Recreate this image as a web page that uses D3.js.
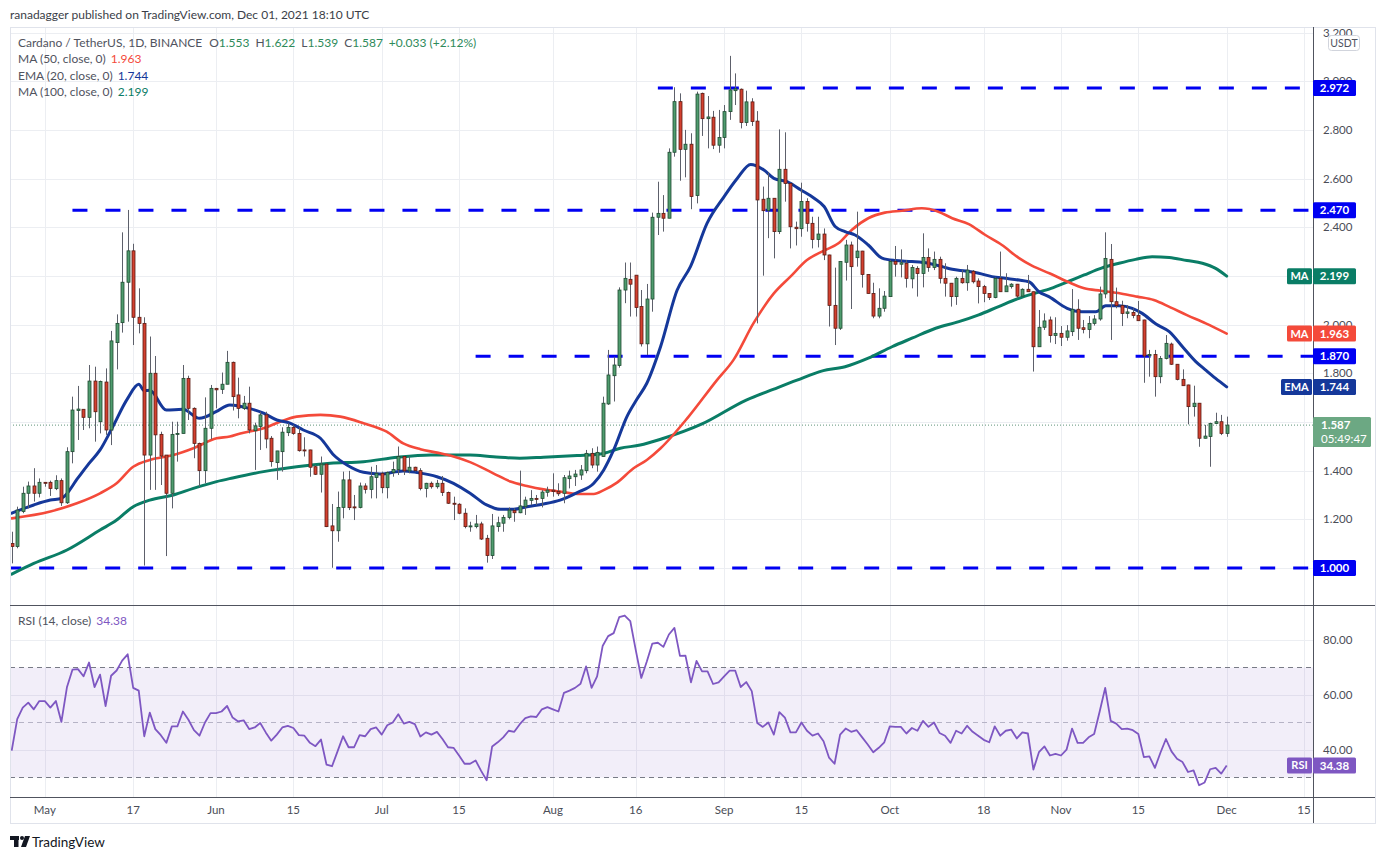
<!DOCTYPE html>
<html><head><meta charset="utf-8">
<script src="https://cdn.jsdelivr.net/npm/d3@7"></script>
<style>
body{margin:0;background:#fff;}
svg{display:block;font-family:Lato,"Noto Sans",sans-serif;}
</style>
</head><body>
<svg id="chart" width="1385" height="860"></svg>
<script>
// ---------------- DATA ----------------
const firstDay = "2021-04-25";
const opens = [1.101,1.088,1.232,1.307,1.337,1.307,1.352,1.352,1.326,1.359,1.268,1.478,1.647,1.652,1.619,1.768,1.601,1.764,1.567,1.926,2.008,2.174,2.303,2.030,2.005,1.464,1.800,1.549,1.464,1.307,1.549,1.553,1.779,1.656,1.512,1.400,1.574,1.738,1.734,1.755,1.845,1.711,1.656,1.677,1.564,1.581,1.629,1.533,1.433,1.478,1.556,1.578,1.553,1.485,1.485,1.416,1.385,1.427,1.173,1.153,1.249,1.362,1.251,1.249,1.337,1.323,1.372,1.389,1.330,1.393,1.404,1.458,1.399,1.414,1.400,1.327,1.348,1.334,1.348,1.310,1.266,1.262,1.225,1.170,1.170,1.181,1.122,1.051,1.170,1.184,1.208,1.236,1.227,1.252,1.278,1.286,1.286,1.311,1.320,1.315,1.307,1.367,1.375,1.382,1.400,1.471,1.423,1.458,1.674,1.790,1.832,2.142,2.186,2.203,2.074,1.921,2.105,2.441,2.457,2.437,2.708,2.916,2.720,2.741,2.530,2.950,2.846,2.852,2.737,2.769,2.875,2.961,2.967,2.830,2.915,2.836,2.515,2.468,2.519,2.382,2.638,2.580,2.400,2.394,2.506,2.416,2.350,2.372,2.286,2.079,1.985,2.256,2.327,2.275,2.302,2.206,2.128,2.035,2.067,2.115,2.259,2.248,2.252,2.188,2.231,2.210,2.276,2.235,2.268,2.190,2.170,2.115,2.190,2.172,2.219,2.179,2.156,2.128,2.111,2.190,2.135,2.156,2.166,2.117,2.145,2.135,1.909,1.989,2.019,1.955,1.964,1.948,1.971,2.063,1.987,1.980,2.005,2.023,2.126,2.268,2.094,2.078,2.046,2.050,2.038,2.019,1.872,1.877,1.786,1.861,1.920,1.837,1.775,1.752,1.663,1.677,1.533,1.540,1.594,1.601,1.553];
const highs = [1.149,1.252,1.334,1.355,1.410,1.368,1.353,1.359,1.381,1.368,1.496,1.704,1.748,1.652,1.834,1.827,1.770,1.820,1.974,2.042,2.379,2.471,2.332,2.149,2.030,1.951,1.871,1.560,1.464,1.601,1.601,1.834,1.790,1.660,1.515,1.701,1.752,1.740,1.803,1.892,1.848,1.782,1.707,1.745,1.597,1.642,1.642,1.542,1.481,1.578,1.595,1.588,1.578,1.537,1.486,1.423,1.458,1.430,1.263,1.314,1.396,1.399,1.300,1.351,1.348,1.416,1.423,1.396,1.396,1.437,1.499,1.460,1.458,1.416,1.410,1.350,1.355,1.362,1.378,1.314,1.293,1.266,1.245,1.190,1.218,1.190,1.136,1.222,1.211,1.218,1.249,1.245,1.400,1.293,1.320,1.300,1.320,1.334,1.389,1.348,1.382,1.400,1.403,1.423,1.485,1.492,1.499,1.704,1.896,1.868,2.153,2.255,2.255,2.203,2.142,2.167,2.460,2.587,2.532,2.724,2.975,2.950,2.800,2.786,2.957,2.953,2.939,2.878,2.882,2.902,3.104,3.032,2.970,2.961,2.930,2.877,2.567,2.624,2.520,2.802,2.790,2.583,2.423,2.583,2.519,2.443,2.443,2.395,2.287,2.234,2.260,2.348,2.341,2.464,2.303,2.207,2.172,2.149,2.138,2.265,2.323,2.309,2.265,2.245,2.240,2.375,2.313,2.300,2.279,2.252,2.171,2.197,2.224,2.245,2.224,2.190,2.163,2.129,2.194,2.300,2.211,2.170,2.167,2.149,2.204,2.136,2.060,2.046,2.033,2.030,1.994,1.998,2.146,2.104,2.019,2.035,2.039,2.156,2.379,2.331,2.152,2.098,2.080,2.067,2.097,2.020,1.896,1.896,1.871,1.957,1.926,1.838,1.816,1.753,1.749,1.678,1.588,1.597,1.638,1.629,1.622];
const lows = [1.019,1.081,1.225,1.245,1.273,1.290,1.334,1.296,1.320,1.255,1.263,1.430,1.526,1.567,1.574,1.519,1.553,1.547,1.505,1.816,1.967,2.012,1.916,1.964,1.010,1.321,1.321,1.341,1.049,1.245,1.437,1.553,1.608,1.451,1.334,1.348,1.529,1.656,1.715,1.755,1.647,1.615,1.649,1.553,1.403,1.485,1.492,1.416,1.362,1.396,1.542,1.547,1.478,1.458,1.375,1.382,1.310,1.168,1.001,1.108,1.204,1.238,1.197,1.245,1.306,1.286,1.286,1.307,1.286,1.375,1.382,1.382,1.389,1.396,1.319,1.290,1.326,1.326,1.296,1.263,1.197,1.221,1.163,1.149,1.163,1.115,1.022,1.037,1.149,1.149,1.200,1.190,1.225,1.218,1.259,1.259,1.249,1.293,1.293,1.296,1.266,1.327,1.337,1.362,1.389,1.410,1.396,1.458,1.670,1.684,1.823,2.088,2.033,2.033,1.910,1.875,2.053,2.368,2.382,2.437,2.690,2.591,2.605,2.474,2.498,2.775,2.724,2.721,2.706,2.724,2.841,2.902,2.806,2.816,2.816,2.005,2.201,2.355,2.272,2.372,2.505,2.313,2.325,2.361,2.382,2.313,2.317,2.265,1.992,1.916,1.978,2.181,2.064,2.238,2.152,2.128,2.026,2.026,2.053,2.115,2.197,2.194,2.152,2.149,2.115,2.153,2.217,2.224,2.169,2.115,2.074,2.081,2.168,2.139,2.169,2.087,2.092,2.101,2.108,2.134,2.134,2.148,2.108,2.116,2.134,1.807,1.908,1.978,1.926,1.920,1.912,1.934,1.953,1.937,1.964,1.944,1.996,2.016,2.108,1.937,2.067,1.994,2.026,2.026,2.015,1.761,1.786,1.704,1.759,1.857,1.834,1.771,1.748,1.590,1.622,1.498,1.532,1.416,1.592,1.546,1.539];
const closes = [1.088,1.238,1.307,1.337,1.307,1.352,1.350,1.327,1.359,1.268,1.478,1.649,1.653,1.619,1.768,1.642,1.766,1.567,1.933,2.005,2.174,2.303,2.030,2.005,1.464,1.800,1.547,1.460,1.307,1.549,1.553,1.779,1.656,1.512,1.400,1.574,1.738,1.732,1.755,1.845,1.704,1.656,1.677,1.567,1.584,1.629,1.530,1.437,1.481,1.558,1.578,1.553,1.482,1.482,1.414,1.385,1.427,1.170,1.153,1.249,1.362,1.248,1.249,1.337,1.323,1.375,1.389,1.330,1.393,1.405,1.458,1.399,1.414,1.400,1.327,1.348,1.334,1.348,1.310,1.266,1.262,1.225,1.170,1.173,1.181,1.119,1.051,1.173,1.186,1.208,1.238,1.227,1.255,1.279,1.286,1.285,1.312,1.320,1.314,1.305,1.371,1.378,1.386,1.403,1.471,1.423,1.475,1.677,1.793,1.834,2.142,2.190,2.166,2.070,1.921,2.105,2.441,2.457,2.437,2.708,2.916,2.720,2.741,2.526,2.947,2.846,2.853,2.737,2.769,2.875,2.964,2.969,2.830,2.915,2.834,2.512,2.468,2.519,2.382,2.638,2.580,2.402,2.394,2.506,2.416,2.350,2.372,2.286,2.079,1.985,2.259,2.327,2.238,2.302,2.206,2.128,2.035,2.067,2.117,2.259,2.248,2.254,2.190,2.235,2.210,2.276,2.235,2.268,2.190,2.170,2.115,2.190,2.172,2.224,2.176,2.156,2.128,2.111,2.190,2.135,2.159,2.166,2.117,2.145,2.135,1.909,1.989,2.015,1.955,1.964,1.948,1.974,2.063,1.985,1.980,2.005,2.023,2.126,2.272,2.094,2.078,2.046,2.052,2.037,2.016,1.871,1.877,1.786,1.861,1.923,1.837,1.775,1.749,1.663,1.677,1.533,1.542,1.594,1.601,1.553,1.587];

const rsiValues = [39.8,51.2,55.4,57.2,54.8,57.8,57.8,55.4,57.8,50.2,62.8,69.2,69.4,66.8,71.8,62.9,67.4,56.0,67.0,68.9,72.5,74.8,62.6,61.6,45.0,53.6,47.6,45.4,42.6,48.6,48.6,54.0,51.0,47.2,45.2,50.0,53.4,53.4,54.0,56.0,51.8,50.4,50.8,47.6,48.2,49.8,46.4,43.4,45.6,48.2,48.8,48.0,45.4,45.2,42.6,41.4,43.8,34.7,34.1,39.5,45.0,41.0,41.0,45.4,45.0,47.6,48.2,45.6,49.0,50.0,53.0,49.6,50.2,49.4,44.9,46.4,45.6,46.6,44.0,41.0,40.8,38.0,35.0,35.0,36.2,32.4,29.0,41.3,42.8,44.6,47.0,46.6,49.4,51.6,52.2,52.0,54.8,55.6,54.8,54.0,60.8,61.6,62.6,64.1,70.4,62.6,66.8,77.8,81.4,82.5,88.3,88.9,86.9,76.3,66.2,72.2,78.7,79.0,77.5,82.0,84.4,74.2,74.3,64.6,72.4,68.6,68.6,64.0,64.6,66.8,68.9,68.9,62.9,64.7,61.4,49.8,48.4,50.0,45.6,53.8,51.8,46.4,46.4,50.0,47.0,45.2,46.0,43.2,37.2,35.0,45.6,47.8,46.6,47.2,44.6,42.0,39.2,40.8,42.8,48.6,48.4,48.4,46.0,48.0,47.0,50.6,48.4,50.0,46.2,45.2,42.6,47.0,46.0,48.8,46.6,45.2,43.7,42.8,48.6,45.2,47.0,47.4,44.2,46.4,46.0,32.9,39.2,41.3,38.0,38.6,38.0,40.1,47.8,42.6,42.6,44.6,45.8,54.0,62.6,50.6,49.6,47.6,47.8,47.2,45.8,37.4,37.7,33.5,39.0,44.0,39.5,36.8,35.6,32.0,32.6,27.2,28.2,33.0,33.5,31.4,34.38];

// moving-average readings: candle number (1 = first candle) and value
const ema20Days = [1,5,8,10,13,15,17,19,22,24,25,26,29,32,35,38,40.5,44,46.6,49,51.4,53.8,56.9,59.3,61.7,64.7,67.7,71.9,74.4,78,81,84,87,89.5,91.9,94.3,97.3,100.3,103.4,106.4,108.2,110,112.4,114.2,116,118.5,121.5,123.9,126.9,130,132.4,134.8,137.2,139,141.4,143.9,146.3,148.1,150.1,151.9,153.7,156.1,158.6,161,164,167,169.5,171.3,173.7,176.1,178.5,180.9,183.4,185.2,187,188.8,192.1,194.8,197.3,199.1,201.5,203.9,205.7,208.2,210.6,213,215.4,217.2,219,221];
const ema20Vals = [1.225,1.259,1.279,1.286,1.370,1.43,1.485,1.567,1.697,1.755,1.729,1.730,1.649,1.652,1.615,1.642,1.670,1.656,1.636,1.608,1.595,1.567,1.533,1.464,1.423,1.393,1.386,1.399,1.392,1.375,1.348,1.307,1.259,1.241,1.241,1.252,1.263,1.279,1.310,1.348,1.403,1.485,1.622,1.693,1.759,1.910,2.142,2.238,2.416,2.526,2.601,2.658,2.635,2.601,2.587,2.553,2.519,2.485,2.403,2.382,2.368,2.327,2.273,2.263,2.259,2.252,2.238,2.227,2.220,2.211,2.197,2.190,2.183,2.176,2.135,2.115,2.067,2.053,2.053,2.077,2.077,2.067,2.046,2.002,1.971,1.909,1.848,1.813,1.779,1.744];
const ma50Days = [1,8,12.8,17,20,23,26,30.3,33.9,38.1,40.5,42.4,46.6,49.6,52.6,56.9,60.5,64.7,68.9,71.9,75,78,81,84,88.2,91.3,94.3,97.3,100.3,103.4,106.4,108.2,110.6,113.6,116,118.5,123.5,128.7,131.7,135.3,139,142,145,148.2,150.7,153.1,156.1,159.1,162.2,165.8,168.8,171.3,174.3,177.3,180.3,183.4,185.8,189,192.2,195.2,198.2,201.8,204.8,207.8,210.8,213.8,217.2,221];
const ma50Vals = [1.204,1.232,1.266,1.307,1.348,1.416,1.444,1.464,1.492,1.533,1.540,1.553,1.574,1.601,1.622,1.629,1.622,1.595,1.560,1.512,1.488,1.474,1.458,1.435,1.389,1.355,1.337,1.323,1.314,1.304,1.304,1.320,1.351,1.410,1.444,1.492,1.620,1.772,1.855,2.005,2.128,2.197,2.265,2.305,2.334,2.389,2.437,2.460,2.468,2.478,2.464,2.437,2.413,2.368,2.327,2.273,2.241,2.210,2.176,2.149,2.139,2.128,2.115,2.101,2.071,2.039,2.005,1.963];
const ma100Days = [1,5,11,17,20,23,26,30.3,33.9,38.1,41,46.6,52.6,58.7,64.7,70.9,76.9,84,88.2,93,97.3,103.4,107.6,111.2,114.8,118.5,126,134,139,143.2,147.8,151.9,156.1,160.4,164,168.3,172.5,176.1,179.7,183.4,186,189.2,192.2,195.2,198.2,201.5,204.5,207.5,210.6,213.8,216.6,219,221];
const ma100Vals = [0.975,1.019,1.074,1.156,1.197,1.252,1.279,1.300,1.327,1.355,1.370,1.396,1.416,1.430,1.437,1.455,1.464,1.464,1.457,1.451,1.455,1.462,1.468,1.492,1.505,1.529,1.592,1.690,1.735,1.772,1.810,1.827,1.862,1.909,1.944,1.985,2.012,2.040,2.074,2.108,2.127,2.149,2.176,2.204,2.231,2.252,2.268,2.279,2.276,2.263,2.252,2.231,2.199];

const levelValues = [2.972, 2.470, 1.870, 1.000];
const levelStarts = ["2021-08-20","2021-05-06","2021-07-18","2021-04-24"];
const priceTicks = [1.0,1.2,1.4,1.6,1.8,2.0,2.2,2.4,2.6,2.8,3.0,3.2];
const rsiTicks = [40,60,80];
const timeTickDates = ["2021-05-01","2021-05-17","2021-06-01","2021-06-15","2021-07-01","2021-07-15","2021-08-01","2021-08-16","2021-09-01","2021-09-15","2021-10-01","2021-10-18","2021-11-01","2021-11-15","2021-12-01","2021-12-15"];
const timeTickLabels = ["May","17","Jun","15","Jul","15","Aug","16","Sep","15","Oct","18","Nov","15","Dec","15"];
const lastInfo = {o:"1.553",h:"1.622",l:"1.539",c:"1.587",chg:"+0.033 (+2.12%)",ma50:"1.963",ema20:"1.744",ma100:"2.199",rsi:"34.38",timer:"05:49:47"};

// ---------------- LAYOUT ----------------
const L = 10, R = 1313, RR = 1375, T = 27, MB = 605, RB = 797, AB = 823;
const COL = {up:"#4f9c6e", upS:"#1f4a31", dn:"#d3402f", dnS:"#5a1b13", wick:"#5d606b",
  ema:"#15389a", ma50:"#f44a3a", ma100:"#0a7d66", level:"#0000f2", rsi:"#7e57c2",
  grid:"#eceef2", axisTxt:"#4a4d57", sep:"#50535e", frame:"#e0e3eb", last:"#6ca883"};

const svg = d3.select("#chart");
const parse = d3.utcParse("%Y-%m-%d");
const d0 = parse(firstDay);
const dayDate = n => new Date(d0.getTime() + (n-1)*864e5);

const x = d3.scaleUtc().domain([d0, parse("2021-12-01")]).range([11.7, 1226.7]);
const y = d3.scaleLinear().domain([1, 2.972]).range([568, 88]);
const yr = d3.scaleLinear().domain([30, 70]).range([777.5, 667.5]);

const defs = svg.append("defs");
defs.append("clipPath").attr("id","mainClip").append("rect").attr("x",L).attr("y",T).attr("width",R-L).attr("height",MB-T);
defs.append("clipPath").attr("id","rsiClip").append("rect").attr("x",L).attr("y",MB).attr("width",R-L).attr("height",RB-MB);
defs.append("clipPath").attr("id","axisClip").append("rect").attr("x",R).attr("y",T+1).attr("width",RR-R).attr("height",MB-T-1);

svg.append("rect").attr("width",1385).attr("height",860).attr("fill","#fff");

// grid
const g = svg.append("g");
timeTickDates.forEach(s => {
  const xx = Math.round(x(parse(s))) + 0.5;
  g.append("line").attr("x1",xx).attr("x2",xx).attr("y1",T).attr("y2",RB).attr("stroke",COL.grid);
});
const gMain = svg.append("g").attr("clip-path","url(#mainClip)");
priceTicks.forEach(p => {
  const yy = Math.round(y(p)) + 0.5;
  gMain.append("line").attr("x1",L).attr("x2",R).attr("y1",yy).attr("y2",yy).attr("stroke",COL.grid);
});

// RSI band and lines
const gR = svg.append("g").attr("clip-path","url(#rsiClip)");
rsiTicks.forEach(v => {
  const yy = Math.round(yr(v)) + 0.5;
  gR.append("line").attr("x1",L).attr("x2",R).attr("y1",yy).attr("y2",yy).attr("stroke",COL.grid);
});
gR.append("rect").attr("x",L).attr("width",R-L).attr("y",yr(70)).attr("height",yr(30)-yr(70)).attr("fill","rgba(126,87,194,0.1)");
[70,30].forEach(v=>{
  gR.append("line").attr("x1",L).attr("x2",R).attr("y1",yr(v)).attr("y2",yr(v)).attr("stroke","#787b86").attr("stroke-dasharray","5,4");
});
gR.append("line").attr("x1",L).attr("x2",R).attr("y1",yr(50)).attr("y2",yr(50)).attr("stroke","#b6b3c6").attr("stroke-dasharray","5,4");

// current price dotted line
gMain.append("line").attr("x1",L).attr("x2",R).attr("y1",y(+lastInfo.c)).attr("y2",y(+lastInfo.c))
  .attr("stroke","#5f9479").attr("stroke-dasharray","1,2").attr("stroke-width",1);

// horizontal levels
levelValues.forEach((v,i) => {
  gMain.append("line").attr("x1",x(parse(levelStarts[i]))).attr("x2",R).attr("y1",y(v)).attr("y2",y(v))
    .attr("stroke",COL.level).attr("stroke-width",3).attr("stroke-dasharray","15,18");
});

// moving averages
function maLine(days, vals, color, w){
  const pts = days.map((d,i)=>[x(dayDate(d)), y(vals[i])]);
  gMain.append("path").attr("d", d3.line().curve(d3.curveMonotoneX)(pts))
    .attr("fill","none").attr("stroke",color).attr("stroke-width",w).attr("stroke-linejoin","round").attr("stroke-linecap","round");
}
maLine(ma100Days, ma100Vals, COL.ma100, 3);
maLine(ma50Days, ma50Vals, COL.ma50, 2.6);
maLine(ema20Days, ema20Vals, COL.ema, 3);

// candles
const candles = opens.map((o,i)=>({date:d3.utcDay.offset(d0,i), o, h:highs[i], l:lows[i], c:closes[i]}));
const cg = gMain.append("g");
cg.selectAll("line.w").data(candles).join("line").attr("class","w")
  .attr("x1",d=>Math.round(x(d.date))+0.5).attr("x2",d=>Math.round(x(d.date))+0.5)
  .attr("y1",d=>y(d.h)).attr("y2",d=>y(d.l)).attr("stroke",COL.wick).attr("stroke-width",1);
cg.selectAll("rect.b").data(candles).join("rect").attr("class","b")
  .attr("x",d=>Math.round(x(d.date))+0.5-1.5).attr("width",3)
  .attr("y",d=>y(Math.max(d.o,d.c)))
  .attr("height",d=>Math.max(1, Math.abs(y(d.o)-y(d.c))))
  .attr("fill",d=>d.c>=d.o?COL.up:COL.dn)
  .attr("stroke",d=>d.c>=d.o?COL.upS:COL.dnS).attr("stroke-width",0.8);

// RSI line
gR.append("path").attr("d", d3.line().x((v,i)=>x(d3.utcDay.offset(d0,i))).y(v=>yr(v))(rsiValues))
  .attr("fill","none").attr("stroke",COL.rsi).attr("stroke-width",1.8).attr("stroke-linejoin","round");

// frame & separators
svg.append("rect").attr("x",L+0.5).attr("y",T+0.5).attr("width",RR-L).attr("height",AB-T).attr("fill","none").attr("stroke",COL.frame);
svg.append("line").attr("x1",R+0.5).attr("x2",R+0.5).attr("y1",T).attr("y2",AB).attr("stroke",COL.sep);
[MB, RB].forEach(yy=>svg.append("line").attr("x1",L).attr("x2",RR).attr("y1",yy+0.5).attr("y2",yy+0.5).attr("stroke",COL.sep));

// badge extents on the price axis (tick labels fully hidden beneath them are not drawn)
const lastY = y(+lastInfo.c);
const badgeSpans = levelValues.map(v=>[y(v)-8,y(v)+8])
  .concat([ma100Vals, ma50Vals, ema20Vals].map(a=>{const c=y(a[a.length-1]); return [c-8,c+8];}))
  .concat([[lastY-8, lastY+22]]);

// price axis labels
const ax = svg.append("g").attr("clip-path","url(#axisClip)");
priceTicks.forEach(p=>{
  const yy = y(p);
  if (badgeSpans.some(s => yy >= s[0]+2 && yy <= s[1]-2)) return;
  ax.append("text").attr("x",1323).attr("y",yy).attr("dy","0.36em").attr("font-size",11.5)
    .attr("fill",COL.axisTxt).text(d3.format(".3f")(p));
});
rsiTicks.forEach(v=>{
  svg.append("text").attr("x",1323).attr("y",yr(v)).attr("dy","0.36em").attr("font-size",11.5)
    .attr("fill",COL.axisTxt).text(d3.format(".2f")(v));
});
// time axis labels
timeTickDates.forEach((s,i)=>{
  svg.append("text").attr("x",x(parse(s))).attr("y",814).attr("text-anchor","middle").attr("font-size",11.5)
    .attr("fill",COL.axisTxt).text(timeTickLabels[i]);
});

// axis badges
function badge(yc, txt, fill, tag, tagW){
  svg.append("rect").attr("x",R).attr("y",yc-8).attr("width",43).attr("height",16).attr("rx",1.5).attr("fill",fill);
  svg.append("text").attr("x",R+21.5).attr("y",yc).attr("dy","0.36em").attr("text-anchor","middle")
    .attr("font-size",11.5).attr("font-weight",700).attr("fill","#fff").text(txt);
  if(tag){
    svg.append("rect").attr("x",R-1-tagW).attr("y",yc-8).attr("width",tagW).attr("height",16).attr("rx",1.5).attr("fill",fill);
    svg.append("text").attr("x",R-1-tagW/2).attr("y",yc).attr("dy","0.36em").attr("text-anchor","middle")
      .attr("font-size",11).attr("font-weight",700).attr("fill","#fff").text(tag);
  }
}
levelValues.forEach(v=>badge(y(v), d3.format(".3f")(v), COL.level));
badge(y(ma100Vals[ma100Vals.length-1]), lastInfo.ma100, COL.ma100, "MA", 25);
badge(y(ma50Vals[ma50Vals.length-1]), lastInfo.ma50, COL.ma50, "MA", 25);
badge(y(ema20Vals[ema20Vals.length-1]), lastInfo.ema20, COL.ema, "EMA", 31);
badge(yr(+lastInfo.rsi), lastInfo.rsi, COL.rsi, "RSI", 25);
// last price box
svg.append("rect").attr("x",R).attr("y",lastY-8).attr("width",58).attr("height",30).attr("rx",1.5).attr("fill",COL.last);
svg.append("text").attr("x",R+8).attr("y",lastY).attr("dy","0.36em").attr("font-size",11.5).attr("font-weight",700).attr("fill","#fff").text(lastInfo.c);
svg.append("text").attr("x",R+8).attr("y",lastY+14).attr("dy","0.36em").attr("font-size",11.5).attr("fill","#fff").text(lastInfo.timer);
// USDT badge
svg.append("rect").attr("x",1328.5).attr("y",35.5).attr("width",31).attr("height",15).attr("rx",3).attr("fill","#fff").attr("stroke","#d1d4dc");
svg.append("text").attr("x",1344).attr("y",43).attr("dy","0.36em").attr("text-anchor","middle").attr("font-size",10.5).attr("fill","#50535e").text("USDT");

// header texts
svg.append("text").attr("x",10).attr("y",19).attr("font-size",12).attr("fill","#3b3e48")
  .text("ranadagger published on TradingView.com, Dec 01, 2021 18:10 UTC");
const valC = "#2e8a5a";
const hdr = svg.append("text").attr("x",18).attr("y",47).attr("font-size",12).attr("fill","#50535e");
hdr.append("tspan").text("Cardano / TetherUS, 1D, BINANCE");
[["O",lastInfo.o],["H",lastInfo.h],["L",lastInfo.l],["C",lastInfo.c]].forEach((a,i)=>{
  hdr.append("tspan").attr("dx", i===0 ? 7 : 6).text(a[0]);
  hdr.append("tspan").attr("fill",valC).text(a[1]);
});
hdr.append("tspan").attr("dx",6).attr("fill",valC).text(lastInfo.chg);

function legend(yy, label, val, color){
  const t = svg.append("text").attr("x",18).attr("y",yy).attr("font-size",12).attr("fill","#50535e");
  t.append("tspan").text(label);
  t.append("tspan").attr("dx",5).attr("fill",color).text(val);
}
legend(63, "MA (50, close, 0)", lastInfo.ma50, COL.ma50);
legend(79.5, "EMA (20, close, 0)", lastInfo.ema20, COL.ema);
legend(96, "MA (100, close, 0)", lastInfo.ma100, COL.ma100);
legend(625, "RSI (14, close)", lastInfo.rsi, COL.rsi);

// TradingView logo
const lg = svg.append("g").attr("fill","#131722");
lg.append("rect").attr("x",10).attr("y",836).attr("width",9).attr("height",4);
lg.append("rect").attr("x",14).attr("y",836).attr("width",4.5).attr("height",11);
lg.append("circle").attr("cx",22).attr("cy",838).attr("r",2);
lg.append("path").attr("d","M25,836 L30,836 L26,847 L21,847 Z");
svg.append("text").attr("x",32).attr("y",847).attr("font-size",13.5).attr("fill","#131722").text("TradingView");
</script>
</body></html>
